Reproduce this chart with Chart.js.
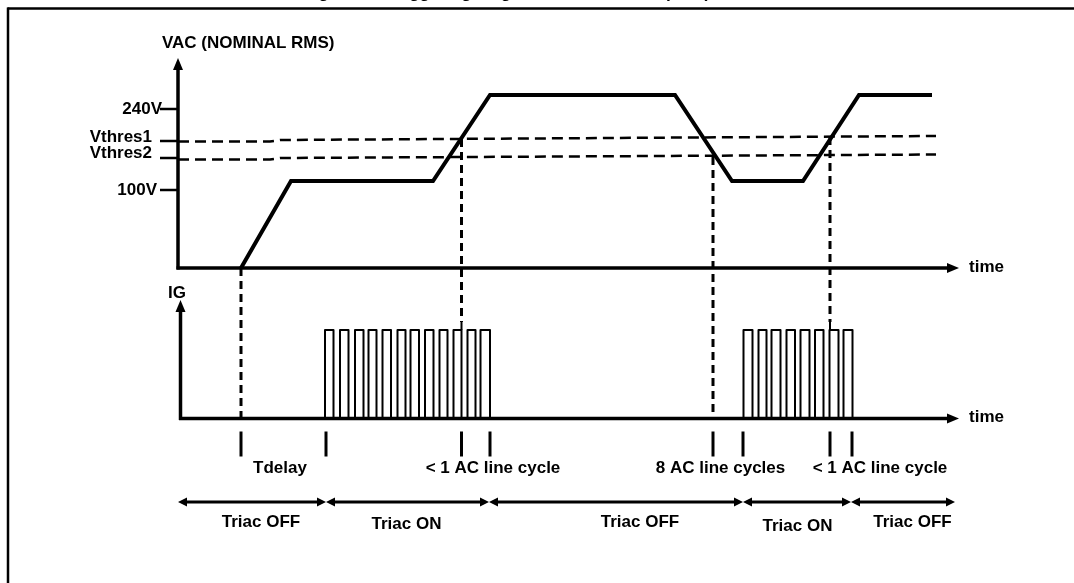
<!DOCTYPE html>
<html>
<head>
<meta charset="utf-8">
<script src="https://cdn.jsdelivr.net/npm/chart.js@4.4.1/dist/chart.umd.min.js"></script>
<style>
  html, body { margin: 0; padding: 0; background: #fff; }
  #wrap { position: relative; width: 1074px; height: 583px; }
</style>
</head>
<body>
<div id="wrap"><canvas id="diagram"></canvas></div>
<script>
// time in arbitrary units, 0 = the vertical axis
// VAC level in schematic units (0 = time axis)
const vacTime  = [63, 113, 255, 312, 497, 554, 625, 681, 754];
const vacLevel = [0, 87, 87, 173, 173, 87, 87, 173, 173];

const thresTime   = [0, 92, 102, 758];
const vthres1Level = [126.5, 126.5, 128, 132];
const vthres2Level = [108.5, 108.5, 110, 113.5];

const tickLevels = [159, 127, 110, 78];
const tickLabels = ['240V', 'Vthres1', 'Vthres2', '100V'];

// gate pulses (IG), start / end of each pulse
const burst1Start = [147, 162, 177, 190.5, 204.5, 219.5, 232.5, 247, 261.5, 275.5, 289.5, 302.5];
const burst1End   = [155.5, 170.5, 185.5, 198.5, 213, 227.5, 241, 255.5, 269.5, 283.5, 297.5, 312];
const burst2Start = [565.5, 580.5, 593.5, 608.5, 622.5, 637, 651.5, 665.5];
const burst2End   = [574.5, 588.5, 602.5, 617, 631.5, 645.5, 660.5, 674.5];
const pulseHeight = 88.5;

// dashed drop lines: time, start level on VAC panel, end level on IG panel
const dropTime  = [63, 283.5, 535, 652];
const dropFrom  = [0, 129, 111, 131];
const dropTo    = [0, 96.5, 0, 96.5];

// event markers under the IG axis
const markerTime = [63, 148, 283.5, 312, 535, 565, 652, 674];

const intervalLabels = ['Tdelay', '< 1 AC line cycle', '8 AC line cycles', '< 1 AC line cycle'];
const intervalTime   = [102, 315, 542.5, 702];

const spanEdges  = [0, 148, 311, 565, 673, 777];
const spanLabels = ['Triac OFF', 'Triac ON', 'Triac OFF', 'Triac ON', 'Triac OFF'];
const spanLabelTime = [83, 228.5, 462, 619.5, 734.5];

const FONT = 'bold 17px "Liberation Sans", Arial, sans-serif';

function zip(xs, ys) { return xs.map((v, i) => ({ x: v, y: ys[i] })); }

function pulseTrain(starts, ends, h) {
  const pts = [];
  starts.forEach((s, i) => {
    pts.push({ x: s, y: 0 }, { x: s, y: h }, { x: ends[i], y: h }, { x: ends[i], y: 0 });
  });
  return pts;
}

const line = (ctx, x1, y1, x2, y2, w, dash) => {
  ctx.lineWidth = w;
  ctx.setLineDash(dash || []);
  ctx.beginPath();
  ctx.moveTo(x1, y1);
  ctx.lineTo(x2, y2);
  ctx.stroke();
};

const head = (ctx, x, y, dir, len, half) => {
  ctx.beginPath();
  if (dir === 'up') { ctx.moveTo(x, y); ctx.lineTo(x - half, y + len); ctx.lineTo(x + half, y + len); }
  if (dir === 'right') { ctx.moveTo(x, y); ctx.lineTo(x - len, y - half); ctx.lineTo(x - len, y + half); }
  if (dir === 'left') { ctx.moveTo(x, y); ctx.lineTo(x + len, y - half); ctx.lineTo(x + len, y + half); }
  ctx.closePath();
  ctx.fill();
};

const overlay = {
  id: 'overlay',
  afterDatasetsDraw(chart) {
    const { ctx } = chart;
    const { x, yV, yG } = chart.scales;
    ctx.save();
    ctx.strokeStyle = '#000';
    ctx.fillStyle = '#000';
    ctx.lineCap = 'butt';

    // frame and caption (cut off by the top edge, as in the source)
    line(ctx, 7.5, 8.5, 1074, 8.5, 2.5);
    line(ctx, 8, 7.5, 8, 583, 2.5);
    ctx.font = FONT;
    ctx.textAlign = 'center';
    ctx.textBaseline = 'alphabetic';
    ctx.fillText('Figure 12. Triggering diagram in burst mode (VAC) at VDD', 537, -2);

    // VAC axes
    const x0 = x.getPixelForValue(0);
    const base = yV.getPixelForValue(0);
    const tip = x.getPixelForValue(781);
    line(ctx, x0, base + 1.5, x0, yV.getPixelForValue(198), 3.5);
    head(ctx, x0, yV.getPixelForValue(210), 'up', 12, 5);
    line(ctx, x0 - 1.5, base, tip - 10, base, 3.5);
    head(ctx, tip, base, 'right', 12, 5);

    // ticks and tick labels
    const labelRight = [162, 152, 152, 157];
    const labelShift = [0, -4, -5, 0];
    ctx.textAlign = 'right';
    ctx.textBaseline = 'middle';
    tickLevels.forEach((lv, i) => {
      const py = yV.getPixelForValue(lv);
      line(ctx, x.getPixelForValue(-18), py, x0, py, 2.5);
      ctx.fillText(tickLabels[i], labelRight[i], py + labelShift[i]);
    });

    ctx.textAlign = 'left';
    ctx.fillText('VAC (NOMINAL RMS)', 162, 43);
    ctx.fillText('time', 969, base - 1);

    // IG axes
    const g0 = yG.getPixelForValue(0);
    const xg = x.getPixelForValue(2.5);
    line(ctx, xg, g0 + 1.5, xg, yG.getPixelForValue(108), 3.5);
    head(ctx, xg, yG.getPixelForValue(118.5), 'up', 12, 5);
    line(ctx, xg - 1.5, g0, tip - 10, g0, 3.5);
    head(ctx, tip, g0, 'right', 12, 5);
    ctx.fillText('time', 969, g0 - 1);
    ctx.textAlign = 'center';
    ctx.fillText('IG', 177, 293);

    // dashed drop lines and the short solid stubs above the pulses
    dropTime.forEach((t, i) => {
      const px = x.getPixelForValue(t);
      line(ctx, px, yV.getPixelForValue(dropFrom[i]), px, yG.getPixelForValue(dropTo[i]), 3, [8, 5]);
      if (dropTo[i] > 0) {
        line(ctx, px, yG.getPixelForValue(dropTo[i]), px, yG.getPixelForValue(pulseHeight), 2);
      }
    });

    // markers
    markerTime.forEach(t => {
      const px = x.getPixelForValue(t);
      line(ctx, px, g0 + 13, px, g0 + 38, 3);
    });

    ctx.textBaseline = 'middle';
    intervalLabels.forEach((s, i) => ctx.fillText(s, x.getPixelForValue(intervalTime[i]), 468));

    // triac state spans
    const ay = 502;
    for (let i = 0; i < spanEdges.length - 1; i++) {
      const a = x.getPixelForValue(spanEdges[i]);
      const b = x.getPixelForValue(spanEdges[i + 1]);
      line(ctx, a + 6, ay, b - 6, ay, 3);
      head(ctx, a, ay, 'left', 9, 4.5);
      head(ctx, b, ay, 'right', 9, 4.5);
    }
    const spanY = [522, 524, 522, 526, 522];
    spanLabels.forEach((s, i) => ctx.fillText(s, x.getPixelForValue(spanLabelTime[i]), spanY[i]));

    ctx.restore();
  }
};

new Chart(document.getElementById('diagram'), {
  type: 'line',
  data: {
    datasets: [
      { data: zip(vacTime, vacLevel), yAxisID: 'yV', borderColor: '#000', borderWidth: 4, borderJoinStyle: 'miter' },
      { data: zip(thresTime, vthres1Level), yAxisID: 'yV', borderColor: '#000', borderWidth: 2.5, borderDash: [11, 6] },
      { data: zip(thresTime, vthres2Level), yAxisID: 'yV', borderColor: '#000', borderWidth: 2.5, borderDash: [11, 6] },
      { data: pulseTrain(burst1Start, burst1End, pulseHeight), yAxisID: 'yG', borderColor: '#000', borderWidth: 2, borderJoinStyle: 'round' },
      { data: pulseTrain(burst2Start, burst2End, pulseHeight), yAxisID: 'yG', borderColor: '#000', borderWidth: 2, borderJoinStyle: 'round' }
    ]
  },
  options: {
    responsive: true,
    maintainAspectRatio: false,
    animation: false,
    events: [],
    layout: { padding: 0 },
    elements: { point: { radius: 0 }, line: { tension: 0, fill: false } },
    plugins: { legend: { display: false }, tooltip: { enabled: false } },
    scales: {
      x: { type: 'linear', min: -178, max: 896, display: false },
      yV: { type: 'linear', min: -315, max: 268, display: false },
      yG: { type: 'linear', min: -164.5, max: 418.5, display: false }
    }
  },
  plugins: [overlay]
});
</script>
</body>
</html>
